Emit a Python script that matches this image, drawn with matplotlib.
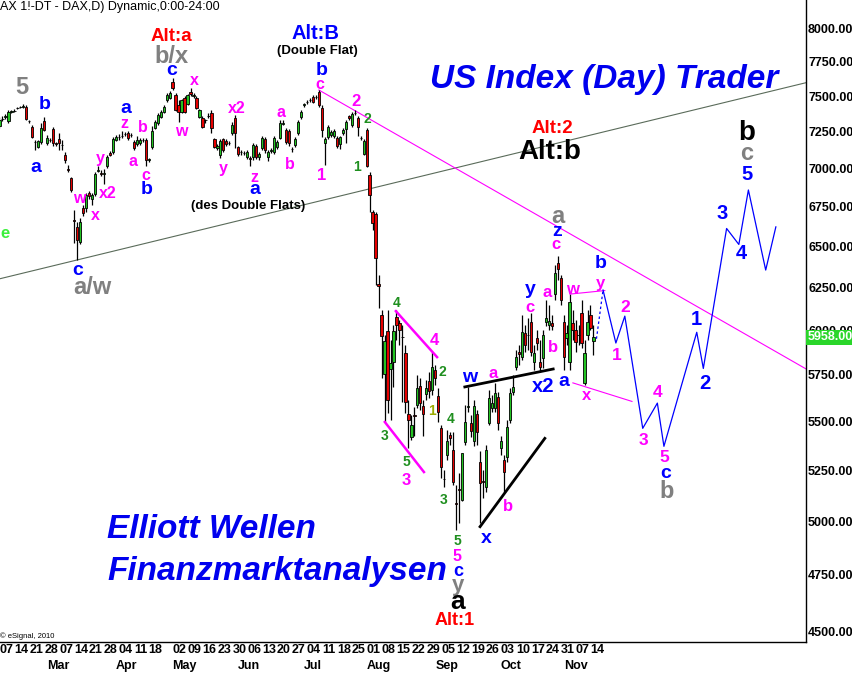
import numpy as np
import pandas as pd
import matplotlib
matplotlib.use("Agg")
import matplotlib.pyplot as plt
from matplotlib.ticker import FixedLocator, FuncFormatter, NullLocator
from matplotlib.transforms import blended_transform_factory

plt.rcParams['font.family'] = ['Liberation Sans', 'DejaVu Sans']
plt.rcParams['font.weight'] = 'bold'

# Xetra trading days 2011 (Good Friday / Easter Monday closed)
days = pd.bdate_range("2011-02-07", "2011-11-15")
days = days.drop(pd.to_datetime(["2011-04-22", "2011-04-25"]))

opens = [7289, 7335, 7350, 7323, 7385, 7393, 7412, 7420, 7425, 7422,
         7325, 7282, 7180, 7144, 7178, 7323, 7172, 7195, 7268, 7168,
         7199, 7158, 7090, 6995, 6935, 6665, 6619, 6525, 6740, 6740,
         6837, 6798, 6831, 6985, 6968, 6965, 7015, 7104, 7110, 7192,
         7210, 7218, 7233, 7240, 7226, 7178, 7165, 7172, 7190, 7192,
         7056, 7144, 7275, 7309, 7352, 7387, 7471, 7486, 7601, 7507,
         7436, 7387, 7486, 7444, 7529, 7500, 7486, 7352, 7345, 7330,
         7358, 7380, 7199, 7138, 7090, 7199, 7185, 7170, 7240, 7345,
         7144, 7110, 7104, 7076, 7070, 7076, 7151, 7076, 7138, 7199,
         7076, 7120, 7110, 7144, 7206, 7305, 7261, 7254, 7130, 7158,
         7240, 7352, 7436, 7457, 7471, 7493, 7490, 7529, 7415, 7172,
         7213, 7226, 7220, 7206, 7165, 7240, 7268, 7359, 7296, 7378,
         7345, 7206, 7097, 7261, 6955, 6714, 6701, 6269, 6086, 5754,
         5994, 5781, 5819, 6074, 6040, 5962, 5869, 5538, 5418, 5534,
         5585, 5688, 5580, 5644, 5715, 5666, 5775, 5633, 5464, 5207,
         5324, 5428, 5353, 5087, 5156, 5104, 5391, 5574, 5491, 5397,
         5538, 5290, 5195, 5165, 5491, 5569, 5569, 5627, 5359, 5300,
         5314, 5506, 5655, 5792, 5874, 5847, 5983, 5973, 6045, 5819,
         5954, 5819, 5841, 6045, 6028, 6040, 6209, 6396, 6305, 6045,
         5954, 5819, 6040, 6000, 5973, 6097, 5705, 5971, 6086, 5937]

highs = [7352, 7355, 7372, 7401, 7398, 7405, 7425, 7432, 7440, 7436,
         7330, 7296, 7192, 7195, 7309, 7352, 7226, 7205, 7282, 7180,
         7240, 7192, 7110, 7022, 6942, 6727, 6650, 6676, 6759, 6837,
         6850, 6837, 6975, 7015, 6989, 6995, 7090, 7115, 7213, 7226,
         7233, 7254, 7250, 7254, 7240, 7192, 7220, 7206, 7206, 7206,
         7070, 7289, 7330, 7380, 7401, 7436, 7520, 7536, 7629, 7522,
         7471, 7480, 7500, 7515, 7555, 7520, 7500, 7410, 7355, 7340,
         7380, 7401, 7206, 7165, 7199, 7206, 7199, 7185, 7316, 7366,
         7151, 7124, 7118, 7124, 7080, 7172, 7165, 7110, 7220, 7212,
         7124, 7135, 7220, 7192, 7330, 7330, 7275, 7268, 7145, 7212,
         7330, 7401, 7450, 7470, 7485, 7505, 7510, 7543, 7436, 7213,
         7296, 7261, 7268, 7220, 7220, 7275, 7330, 7366, 7387, 7401,
         7359, 7220, 7199, 7275, 6975, 6727, 6714, 6323, 6115, 5971,
         6115, 5943, 6028, 6115, 6057, 6028, 5914, 5610, 5532, 5574,
         5748, 5732, 5610, 5721, 5764, 5874, 5803, 5677, 5480, 5250,
         5454, 5444, 5444, 5175, 5235, 5338, 5585, 5683, 5532, 5610,
         5559, 5348, 5250, 5375, 5666, 5638, 5705, 5655, 5423, 5324,
         5506, 5677, 5748, 5885, 5914, 6086, 6028, 6068, 6097, 5914,
         6000, 5943, 6000, 6172, 6144, 6086, 6384, 6439, 6323, 6086,
         6028, 6209, 6115, 6057, 6028, 6172, 5943, 6115, 6144, 6028]

lows = [7275, 7322, 7340, 7309, 7378, 7385, 7405, 7412, 7418, 7330,
        7312, 7206, 7124, 7138, 7165, 7254, 7160, 7175, 7151, 7150,
        7124, 7124, 7036, 6975, 6844, 6519, 6414, 6513, 6689, 6714,
        6798, 6759, 6818, 6975, 6950, 6895, 7002, 7080, 7097, 7185,
        7192, 7206, 7220, 7192, 7215, 7124, 7150, 7160, 7180, 7015,
        7040, 7131, 7265, 7296, 7345, 7380, 7460, 7480, 7543, 7394,
        7316, 7380, 7380, 7436, 7500, 7486, 7408, 7345, 7275, 7310,
        7345, 7240, 7138, 7124, 7070, 7110, 7150, 7155, 7226, 7138,
        7080, 7090, 7088, 7060, 7015, 7056, 7060, 7056, 7124, 7104,
        7050, 7105, 7097, 7130, 7199, 7295, 7165, 7151, 7110, 7145,
        7226, 7340, 7425, 7445, 7460, 7450, 7480, 7422, 7213, 7022,
        7199, 7212, 7206, 7138, 7131, 7226, 7172, 7330, 7282, 7366,
        7220, 7190, 7090, 7008, 6714, 6600, 6263, 6126, 5732, 5496,
        5543, 5506, 5683, 5943, 5914, 5600, 5543, 5364, 5402, 5423,
        5569, 5559, 5423, 5610, 5621, 5638, 5694, 5496, 5210, 5165,
        5300, 5375, 5175, 4958, 4991, 5099, 5375, 5548, 5418, 5370,
        5375, 4991, 5110, 5141, 5480, 5548, 5548, 5454, 5324, 5141,
        5290, 5491, 5638, 5775, 5803, 5830, 5874, 5885, 5852, 5775,
        5885, 5764, 5786, 6022, 6000, 6000, 6172, 6293, 6144, 5775,
        5914, 5775, 5943, 5874, 5914, 5897, 5694, 5943, 6000, 5858]

closes = [7330, 7340, 7360, 7387, 7390, 7396, 7416, 7425, 7430, 7337,
          7320, 7213, 7176, 7185, 7275, 7261, 7206, 7190, 7172, 7164,
          7172, 7155, 7056, 6992, 6857, 6660, 6538, 6650, 6708, 6824,
          6818, 6824, 6962, 6990, 6965, 6970, 7076, 7090, 7199, 7212,
          7214, 7222, 7236, 7206, 7228, 7138, 7192, 7192, 7194, 7056,
          7060, 7254, 7316, 7366, 7387, 7422, 7507, 7522, 7558, 7401,
          7387, 7471, 7387, 7507, 7515, 7505, 7415, 7401, 7282, 7328,
          7361, 7275, 7144, 7151, 7185, 7124, 7165, 7173, 7296, 7240,
          7097, 7112, 7100, 7110, 7065, 7158, 7076, 7097, 7206, 7124,
          7110, 7125, 7206, 7178, 7309, 7310, 7178, 7172, 7132, 7199,
          7316, 7387, 7440, 7460, 7475, 7457, 7495, 7436, 7261, 7199,
          7282, 7247, 7254, 7151, 7213, 7261, 7316, 7345, 7373, 7382,
          7282, 7203, 7185, 7015, 6824, 6644, 6427, 6257, 5966, 5937,
          5610, 5814, 5994, 6028, 6000, 5958, 5600, 5506, 5480, 5530,
          5677, 5595, 5538, 5677, 5660, 5792, 5732, 5548, 5265, 5203,
          5397, 5412, 5190, 5083, 5152, 5334, 5496, 5578, 5449, 5580,
          5444, 5185, 5190, 5353, 5621, 5595, 5649, 5491, 5397, 5240,
          5470, 5649, 5683, 5847, 5863, 5988, 5914, 5969, 5874, 5869,
          5926, 5792, 5971, 6068, 6051, 6022, 6335, 6359, 6172, 5847,
          5983, 6161, 6000, 5931, 5969, 5926, 5869, 6045, 6011, 5958]

# projected wave path (bar index, price)
proj_x = [200, 202.2, 206.5, 209.5, 215.5, 220.4, 222.6, 233.6, 235.8, 243.6, 247.7, 250.9, 256.7, 260.1]
proj_y = [5950, 6233, 5926, 6080, 5463, 5596, 5370, 5987, 5784, 6610, 6510, 6857, 6353, 6620]

BLUE = '#0000ff'
PINK = '#ff00ff'
GRAY = '#808080'
RED = '#ff0000'
GREEN = '#1f8f1f'
OLIVE = '#9aaa00'
LIME = '#3cf03c'

# wave counts: text, bar index, price, colour, size
waves = [
    ("5", 7.5, 7558, GRAY, 17), ("b", 15.2, 7436, BLUE, 14), ("a", 12.2, 7009, BLUE, 14),
    ("e", 1.8, 6581, LIME, 12), ("c", 26.3, 6353, BLUE, 14), ("a/w", 31, 6251, GRAY, 17),
    ("w", 26.6, 6804, PINK, 11.5), ("x", 32, 6695, PINK, 11.5), ("y", 33.7, 7063, PINK, 11.5),
    ("x2", 36.3, 6831, PINK, 11.5), ("a", 42.4, 7408, BLUE, 14), ("z", 41.7, 7309, PINK, 11.5),
    ("b", 48.1, 7275, PINK, 11.5), ("a", 44.7, 7049, PINK, 11.5), ("c", 49.1, 6955, PINK, 11.5),
    ("b", 49.4, 6863, BLUE, 14), ("c", 57.8, 7681, BLUE, 14), ("b/x", 57.5, 7791, GRAY, 17),
    ("Alt:a", 57.5, 7941, RED, 13.5), ("x", 65.2, 7615, PINK, 11.5), ("w", 60.8, 7247, PINK, 11.5),
    ("x2", 79.6, 7408, PINK, 11.5), ("y", 74.9, 7002, PINK, 11.5), ("z", 85.3, 6942, PINK, 11.5),
    ("a", 85.6, 6857, BLUE, 14), ("a", 94.3, 7380, PINK, 11.5), ("b", 97.3, 7029, PINK, 11.5),
    ("Alt:B", 106, 7964, BLUE, 14.5), ("b", 108, 7681, BLUE, 14), ("c", 107.4, 7586, PINK, 11.5),
    ("2", 119.4, 7464, PINK, 12), ("2", 123.1, 7337, GREEN, 10), ("1", 108, 6955, PINK, 12),
    ("1", 119.8, 7009, GREEN, 10), ("Alt:2", 185.1, 7268, RED, 13.5), ("Alt:b", 184.4, 7110, 'black', 20),
    ("a", 187.1, 6689, GRAY, 17), ("z", 186.8, 6588, BLUE, 14), ("c", 186.4, 6507, PINK, 12),
    ("y", 177.7, 6239, BLUE, 14), ("a", 183.4, 6221, PINK, 12), ("w", 191.8, 6239, PINK, 12),
    ("b", 250.4, 7240, 'black', 20), ("c", 250.4, 7097, GRAY, 17), ("5", 250.4, 6962, BLUE, 14.5),
    ("3", 242, 6708, BLUE, 14.5), ("4", 248.4, 6457, BLUE, 14.5), ("b", 201.5, 6390, BLUE, 14),
    ("y", 201.5, 6275, PINK, 12), ("4", 133.2, 6155, GREEN, 10), ("4", 145.6, 5943, PINK, 12),
    ("2", 148.2, 5764, GREEN, 10), ("1", 144.9, 5554, OLIVE, 10), ("3", 129.1, 5423, GREEN, 10),
    ("5", 136.2, 5290, GREEN, 10), ("3", 136.2, 5200, PINK, 12), ("4", 151.3, 5511, GREEN, 10),
    ("3", 148.9, 5104, GREEN, 10), ("w", 157.6, 5732, BLUE, 14), ("a", 165.3, 5759, PINK, 12),
    ("c", 177.7, 6132, PINK, 12), ("b", 185.4, 5903, PINK, 12), ("x2", 182.1, 5683, BLUE, 14.5),
    ("a", 189.1, 5715, BLUE, 14), ("b", 170.4, 5071, PINK, 12), ("x", 163, 4916, BLUE, 14),
    ("5", 153.3, 4906, GREEN, 10), ("5", 153.3, 4836, PINK, 11.5), ("c", 153.6, 4767, BLUE, 13),
    ("y", 153.6, 4704, GRAY, 16), ("a", 153.3, 4629, 'black', 19), ("Alt:1", 152.6, 4550, RED, 13),
    ("2", 209.5, 6132, PINK, 12.5), ("1", 206.9, 5858, PINK, 12.5), ("1", 233.3, 6063, BLUE, 14.5),
    ("2", 236.4, 5699, BLUE, 14.5), ("4", 220.6, 5655, PINK, 12.5), ("3", 215.6, 5402, PINK, 12.5),
    ("5", 222.6, 5314, PINK, 12.5), ("c", 223.3, 5235, BLUE, 14), ("b", 223.6, 5146, GRAY, 17),
    ("x", 196.5, 5638, PINK, 12),
]

o = np.array(opens)
h = np.array(highs)
l = np.array(lows)
c = np.array(closes)
idx = np.arange(len(days))

fig = plt.figure(figsize=(8.53, 6.74), dpi=100)
ax = fig.add_axes([0, 32 / 674, 806 / 853, 642 / 674])

ax.set_yscale('log')
ax.set_ylim(4456, 8219)
ax.set_xlim(0.17, 270.2)

# candles
ax.vlines(idx, l, h, color='black', lw=0.9, zorder=2)
body_lo = np.minimum(o, c)
body_h = np.maximum(np.abs(c - o), 3)
ax.bar(idx, body_h, bottom=body_lo, width=0.75,
       color=np.where(c >= o, '#22c322', '#e60000'),
       edgecolor='black', linewidth=0.6, zorder=3)

# trend lines
ax.plot([0, 271], [6300, 7600], color='#5a6b5a', lw=0.8, zorder=1)
ax.plot([107, 271], [7543, 5774], color=PINK, lw=0.8, zorder=1)
ax.plot([132.8, 146.6], [6109, 5847], color=PINK, lw=1.8, zorder=4)
ax.plot([129.1, 142.2], [5496, 5240], color=PINK, lw=1.8, zorder=4)
ax.plot([191.1, 202.8], [6209, 6230], color=PINK, lw=0.8, zorder=4)
ax.plot([192.1, 211.9], [5705, 5605], color=PINK, lw=0.8, zorder=4)
ax.plot([155.9, 185.5], [5683, 5781], color='black', lw=2, zorder=4)
ax.plot([161, 182.7], [4974, 5411], color='black', lw=2, zorder=4)

# projection
ax.plot(proj_x[:2], proj_y[:2], color=BLUE, lw=0.9, ls=(0, (2, 2)), zorder=4)
ax.plot(proj_x[1:], proj_y[1:], color=BLUE, lw=0.9, zorder=4)

for txt, x, y, col, size in waves:
    ax.text(x, y, txt, color=col, fontsize=size, ha='center', va='center',
            fontweight='bold', zorder=5)

ax.text(106.4, 7828, "(Double Flat)", fontsize=9.5, ha='center', va='center', zorder=5)
ax.text(83.4, 6752, "(des Double Flats)", fontsize=9.5, ha='center', va='center', zorder=5)

# headline texts
ax.text(0.0, 0.9844, "AX 1!-DT - DAX,D) Dynamic,0:00-24:00", transform=ax.transAxes,
        fontsize=9, fontweight='normal', ha='left', va='baseline')
ax.text(430 / 806, 0.8629, "US Index (Day) Trader", transform=ax.transAxes,
        fontsize=24, style='italic', color='#0000ee', ha='left', va='baseline')
ax.text(107 / 806, 0.162, "Elliott Wellen", transform=ax.transAxes,
        fontsize=24, style='italic', color='#0000ee', ha='left', va='baseline')
ax.text(107 / 806, 0.0966, "Finanzmarktanalysen", transform=ax.transAxes,
        fontsize=24, style='italic', color='#0000ee', ha='left', va='baseline')
ax.text(0.0, 0.0062, "\u00a9 eSignal, 2010", transform=ax.transAxes,
        fontsize=5.5, fontweight='normal', ha='left', va='baseline')

# y axis on the right
ax.yaxis.tick_right()
ax.yaxis.set_major_locator(FixedLocator(np.arange(4500, 8001, 250)))
ax.yaxis.set_minor_locator(NullLocator())
ax.yaxis.set_major_formatter(FuncFormatter(lambda v, p: f"{v:.2f}"))
ax.tick_params(axis='y', length=0, pad=1.5, labelsize=9)

# last price box
tr = blended_transform_factory(ax.transAxes, ax.transData)
ax.text(1.002, closes[-1], f"{closes[-1]:.2f}", transform=tr, color='white', fontsize=9,
        ha='left', va='center', clip_on=False, zorder=6,
        bbox=dict(boxstyle='square,pad=0.15', fc='#2ad62a', ec='none'))

# date axis: Mondays and month starts
ax.set_xticks([])
xtr = ax.get_xaxis_transform()
for k, d in enumerate(days):
    if d.weekday() == 0:
        ax.text(k, -0.0132, f"{d.day:02d}", transform=xtr, fontsize=9,
                ha='left', va='center', clip_on=False)
seen = set()
for k, d in enumerate(days):
    if d.month >= 3 and d.month not in seen:
        seen.add(d.month)
        ax.text(k, -0.0374, d.strftime('%b'), transform=xtr, fontsize=9,
                ha='left', va='center', clip_on=False)

ax.spines['top'].set_visible(False)
ax.spines['left'].set_visible(False)
ax.spines['right'].set_linewidth(1)
ax.spines['bottom'].set_linewidth(1)

fig.savefig("out.png", dpi=100)
